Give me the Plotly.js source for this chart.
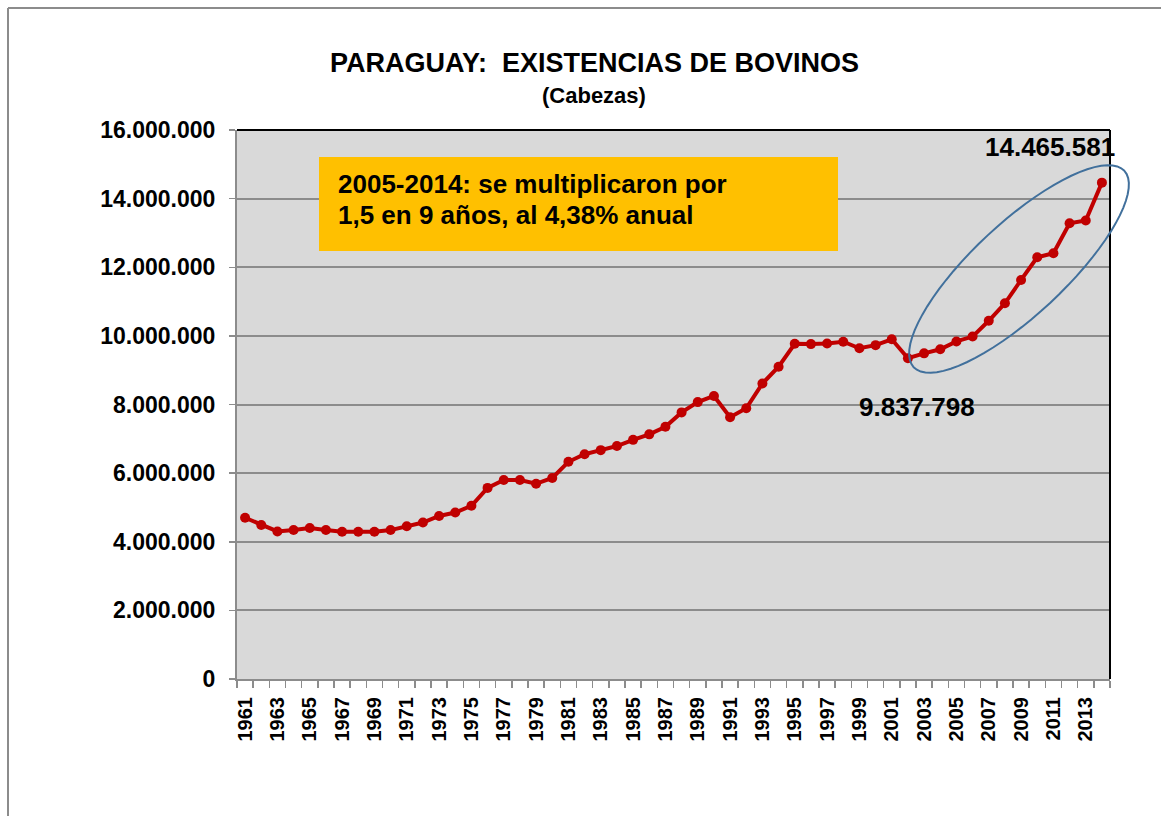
<!DOCTYPE html>
<html>
<head>
<meta charset="utf-8">
<script src="https://cdn.plot.ly/plotly-3.0.1.min.js"></script>
<style>html,body{margin:0;padding:0;background:#fff;}</style>
</head>
<body>
<div id="chart" style="width:1161px;height:816px;"></div>
<script>
// ---- data ----
const years = [1961,1962,1963,1964,1965,1966,1967,1968,1969,1970,
  1971,1972,1973,1974,1975,1976,1977,1978,1979,1980,
  1981,1982,1983,1984,1985,1986,1987,1988,1989,1990,
  1991,1992,1993,1994,1995,1996,1997,1998,1999,2000,
  2001,2002,2003,2004,2005,2006,2007,2008,2009,2010,
  2011,2012,2013,2014];
const cabezas = [4700000,4490000,4300000,4340000,4400000,4340000,4290000,4290000,4290000,4340000,
  4450000,4560000,4750000,4850000,5050000,5570000,5800000,5800000,5690000,5860000,
  6330000,6550000,6670000,6790000,6970000,7130000,7350000,7770000,8070000,8250000,
  7630000,7890000,8610000,9100000,9770000,9760000,9780000,9830000,9640000,9730000,
  9900000,9350000,9490000,9610000,9837798,9980000,10440000,10950000,11630000,12290000,
  12410000,13280000,13360000,14465581];
const yTickVals = [0,2000000,4000000,6000000,8000000,10000000,12000000,14000000,16000000];
const yTickText = ['0','2.000.000','4.000.000','6.000.000','8.000.000','10.000.000','12.000.000','14.000.000','16.000.000'];
const xTickVals = years.filter((y,i)=>i%2===0);
const xTickText = xTickVals.map(String);
const titleText = 'PARAGUAY:  EXISTENCIAS DE BOVINOS';
const subtitleText = '(Cabezas)';
const boxLine1 = '2005-2014: se multiplicaron por';
const boxLine2 = '1,5 en 9 años, al 4,38% anual';
const labelStart = '9.837.798';
const labelEnd = '14.465.581';

// ---- layout geometry (pixels) ----
const W = 1161, H = 816;
const L = 237, R = 1110, T = 130, B = 679;
const px = x => (x - L) / (R - L);
const py = y => (B - y) / (B - T);
const FONT = 'Liberation Sans, Arial, sans-serif';

// rotated ellipse path (pixel geometry -> paper coords)
function ellipsePath(cx, cy, a, b, deg) {
  const th = deg * Math.PI / 180;
  let d = '';
  for (let i = 0; i <= 72; i++) {
    const t = i / 72 * 2 * Math.PI;
    const ex = a * Math.cos(t), ey = b * Math.sin(t);
    const X = cx + ex * Math.cos(th) + ey * Math.sin(th);
    const Y = cy - ex * Math.sin(th) + ey * Math.cos(th);
    d += (i === 0 ? 'M' : 'L') + px(X).toFixed(5) + ',' + py(Y).toFixed(5);
  }
  return d + 'Z';
}

const trace = {
  x: years, y: cabezas, type: 'scatter', mode: 'lines+markers',
  line: {color: '#C00000', width: 4},
  marker: {color: '#C00000', size: 10},
  hoverinfo: 'x+y'
};

const layout = {
  width: W, height: H,
  margin: {l: L, r: W - R, t: T, b: H - B, pad: 0},
  paper_bgcolor: '#ffffff',
  plot_bgcolor: '#D9D9D9',
  showlegend: false,
  font: {family: FONT, color: '#000', size: 20},
  xaxis: {
    range: [1960.5, 2014.5],
    tickmode: 'array', tickvals: xTickVals, ticktext: xTickText,
    tickangle: -90,
    tickfont: {family: FONT, size: 20, weight: 'bold', color: '#000'},
    ticks: '', showgrid: false, zeroline: false,
    showline: true, linecolor: '#8C8C8C', linewidth: 2,
    ticklabelstandoff: 8,
    minor: {tickmode: 'linear', tick0: 1960.5, dtick: 1, ticks: 'outside', ticklen: 7, tickcolor: '#8C8C8C', tickwidth: 1.5, showgrid: false}
  },
  yaxis: {
    range: [0, 16000000],
    tickmode: 'array', tickvals: yTickVals, ticktext: yTickText,
    tickfont: {family: FONT, size: 23, weight: 'bold', color: '#000'},
    ticks: 'outside', ticklen: 6, tickcolor: '#8C8C8C', tickwidth: 1.5,
    ticklabelstandoff: 9,
    showgrid: true, gridcolor: '#8C8C8C', gridwidth: 2,
    zeroline: false,
    showline: true, linecolor: '#8C8C8C', linewidth: 2
  },
  shapes: [
    // outer frame (top and left edges)
    {type: 'line', xref: 'paper', yref: 'paper', x0: px(8), x1: px(1170), y0: py(8), y1: py(8), line: {color: '#8C8C8C', width: 2}},
    {type: 'line', xref: 'paper', yref: 'paper', x0: px(8), x1: px(8), y0: py(8), y1: py(830), line: {color: '#8C8C8C', width: 2}},
    // plot border top/right
    {type: 'line', xref: 'paper', yref: 'paper', x0: 0, x1: 1, y0: 1, y1: 1, line: {color: '#000', width: 2}},
    {type: 'line', xref: 'paper', yref: 'paper', x0: 1, x1: 1, y0: 0, y1: 1, line: {color: '#000', width: 2}},
    // orange note box
    {type: 'rect', xref: 'paper', yref: 'paper', x0: px(319), x1: px(838), y0: py(157), y1: py(251), fillcolor: '#FFC000', line: {width: 0}},
    // ellipse highlight
    {type: 'path', xref: 'paper', yref: 'paper', path: ellipsePath(1019, 269, 144, 46, 43), line: {color: '#41709C', width: 2}, fillcolor: 'rgba(0,0,0,0)'}
  ],
  annotations: [
    {text: titleText, xref: 'paper', yref: 'paper', x: px(594), y: py(63), xanchor: 'center', yanchor: 'middle', showarrow: false,
     font: {family: FONT, size: 27, weight: 'bold', color: '#000'}},
    {text: subtitleText, xref: 'paper', yref: 'paper', x: px(594), y: py(95), xanchor: 'center', yanchor: 'middle', showarrow: false,
     font: {family: FONT, size: 22, weight: 'bold', color: '#000'}},
    {text: boxLine1, xref: 'paper', yref: 'paper', x: px(336), y: py(184), xanchor: 'left', yanchor: 'middle', showarrow: false,
     font: {family: FONT, size: 26, weight: 'bold', color: '#000'}},
    {text: boxLine2, xref: 'paper', yref: 'paper', x: px(336), y: py(215), xanchor: 'left', yanchor: 'middle', showarrow: false,
     font: {family: FONT, size: 26, weight: 'bold', color: '#000'}},
    {text: labelEnd, xref: 'paper', yref: 'paper', x: px(1050), y: py(147), xanchor: 'center', yanchor: 'middle', showarrow: false,
     font: {family: FONT, size: 26, weight: 'bold', color: '#000'}},
    {text: labelStart, xref: 'paper', yref: 'paper', x: px(917), y: py(407), xanchor: 'center', yanchor: 'middle', showarrow: false,
     font: {family: FONT, size: 26, weight: 'bold', color: '#000'}}
  ]
};

Plotly.newPlot('chart', [trace], layout, {displayModeBar: false, staticPlot: true});
</script>
</body>
</html>
